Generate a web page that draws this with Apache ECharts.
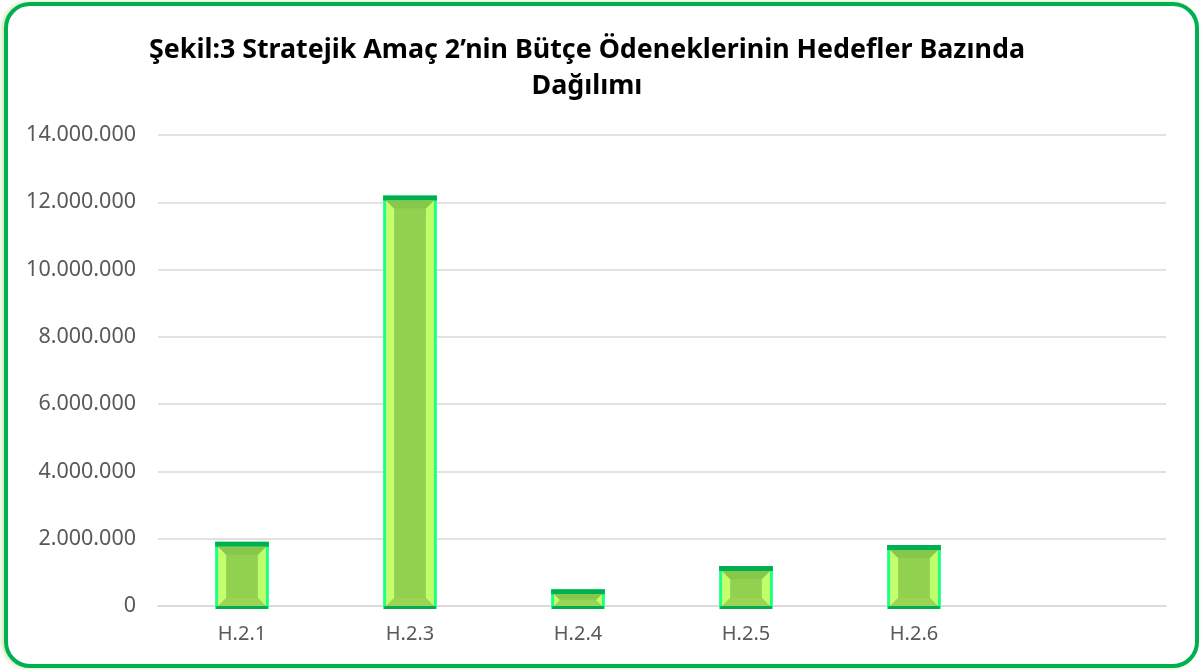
<!DOCTYPE html>
<html>
<head>
<meta charset="utf-8">
<script src="https://cdn.jsdelivr.net/npm/echarts@6/dist/echarts.min.js"></script>
<style>
  html, body { margin: 0; padding: 0; background: #fff; }
  .frame {
    position: absolute; left: 4px; top: 2px; width: 1187px; height: 658px;
    border: 4px solid #00B050; border-radius: 26px; box-sizing: content-box;
    box-shadow: -2px 0 4px rgba(146, 208, 80, 0.5);
  }
  #chart { position: absolute; left: 0; top: 0; width: 1203px; height: 670px; }
</style>
</head>
<body>
<div class="frame"></div>
<div id="chart"></div>
<script>
// hedefler (son kategori boş)
const categories = ['H.2.1', 'H.2.3', 'H.2.4', 'H.2.5', 'H.2.6', '']
const values = [1910000, 12200000, 500000, 1190000, 1810000, null]

const chart = echarts.init(document.getElementById('chart'))

function fmt (v) {
  return String(v).replace(/\B(?=(\d{3})+(?!\d))/g, '.')
}

// bevelli bar
function renderBar (params, api) {
  const v = api.value(1)
  if (v == null || isNaN(v)) return
  const top = api.coord([api.value(0), v])
  const base = api.coord([api.value(0), 0])
  const w = api.size([1, 0])[0] * 0.32
  const x0 = top[0] - w / 2
  const x1 = top[0] + w / 2
  const y0 = top[1]
  const y1 = base[1]
  const b = 3
  const bv = Math.min(8, (y1 - y0 - b * 2) / 2)
  const ix0 = x0 + b, ix1 = x1 - b, iy0 = y0 + b + 2, iy1 = y1
  return {
    type: 'group',
    children: [
      { type: 'rect', shape: { x: x0, y: y0, width: w, height: y1 - y0 + 3 }, style: { fill: '#1EFF88' } },
      { type: 'rect', shape: { x: x0, y: y0, width: w, height: 5 }, style: { fill: '#00B050' } },
      { type: 'rect', shape: { x: x0 + 1, y: y1, width: w - 2, height: 3 }, style: { fill: '#00B050' } },
      { type: 'rect', shape: { x: ix0, y: iy0, width: ix1 - ix0, height: iy1 - iy0 }, style: { fill: '#92D050' } },
      { type: 'polygon', shape: { points: [[ix0, iy0], [ix0 + bv, iy0 + bv], [ix0 + bv, iy1 - bv], [ix0, iy1]] }, style: { fill: '#C6FF6E' } },
      { type: 'polygon', shape: { points: [[ix1, iy0], [ix1 - bv, iy0 + bv], [ix1 - bv, iy1 - bv], [ix1, iy1]] }, style: { fill: '#BEFF6A' } },
      { type: 'polygon', shape: { points: [[ix0, iy0], [ix1, iy0], [ix1 - bv, iy0 + bv], [ix0 + bv, iy0 + bv]] }, style: { fill: '#86C84C' } },
      { type: 'polygon', shape: { points: [[ix0, iy1], [ix1, iy1], [ix1 - bv, iy1 - bv], [ix0 + bv, iy1 - bv]] }, style: { fill: '#9AD654' } }
    ]
  }
}

const options = {
  animation: false,
  title: {
    text: 'Şekil:3 Stratejik Amaç 2’nin Bütçe Ödeneklerinin Hedefler Bazında\nDağılımı',
    left: 582,
    top: 27,
    textAlign: 'center',
    textStyle: {
      fontFamily: 'Noto Sans',
      fontWeight: 'bold',
      fontSize: 26.8,
      lineHeight: 36,
      color: '#000'
    }
  },
  grid: {
    left: 158,
    right: 37,
    top: 135,
    bottom: 64
  },
  xAxis: {
    type: 'category',
    data: categories,
    axisLine: { show: true, lineStyle: { color: '#D9D9D9', width: 1.5 } },
    axisTick: { show: false },
    axisLabel: {
      color: '#595959',
      fontFamily: 'Noto Sans',
      fontSize: 20,
      margin: 18
    }
  },
  yAxis: {
    type: 'value',
    min: 0,
    max: 14000000,
    interval: 2000000,
    axisLine: { show: false },
    axisTick: { show: false },
    splitLine: { lineStyle: { color: '#D9D9D9', width: 1.5 } },
    axisLabel: {
      color: '#595959',
      fontFamily: 'Noto Sans',
      fontSize: 21.5,
      margin: 22,
      formatter: fmt
    }
  },
  series: [
    {
      type: 'custom',
      renderItem: renderBar,
      encode: { x: 0, y: 1 },
      data: categories.map((c, i) => [i, values[i]])
    }
  ]
}

chart.setOption(options)
</script>
</body>
</html>
